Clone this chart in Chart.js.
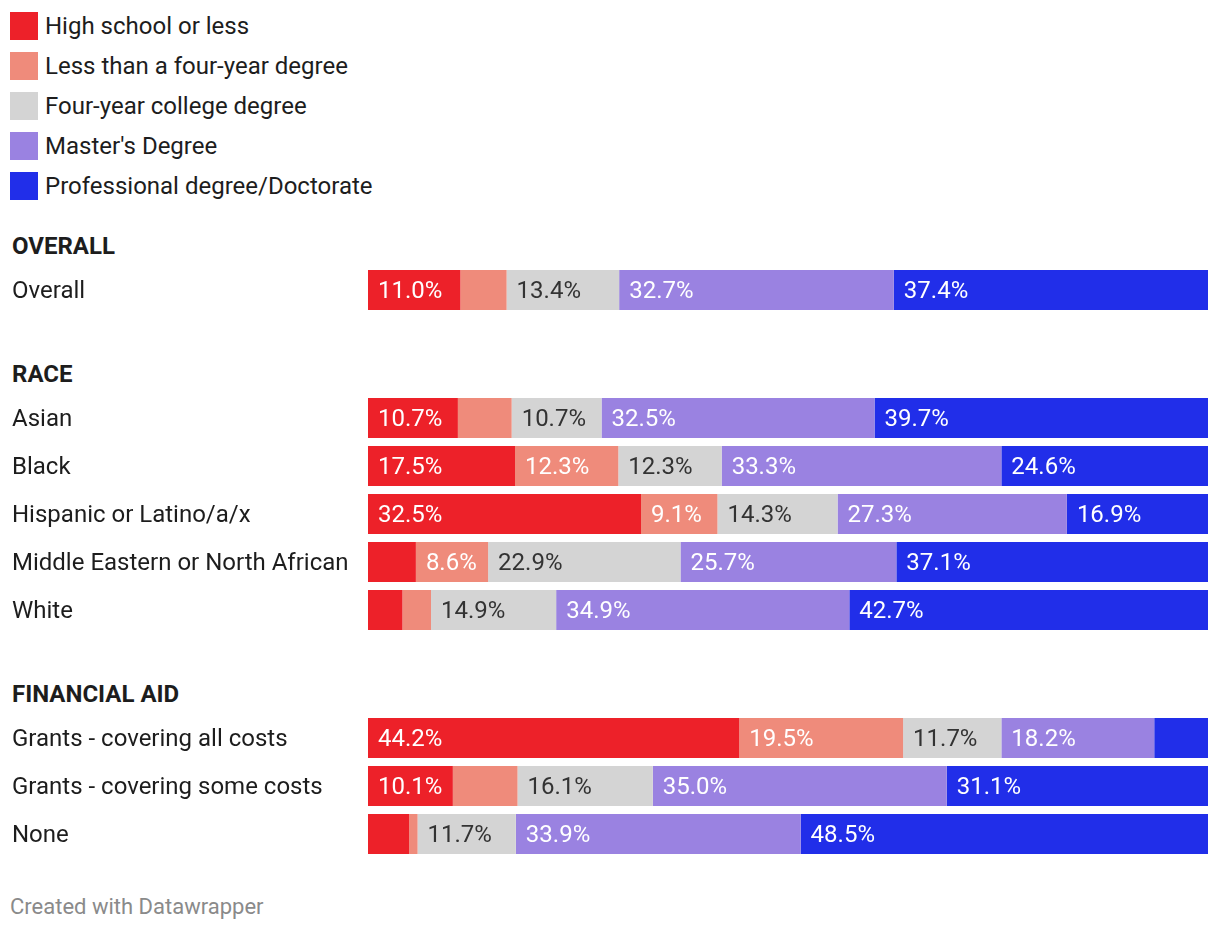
<!DOCTYPE html>
<html>
<head>
<meta charset="utf-8">
<script src="https://cdn.jsdelivr.net/npm/chart.js@4/dist/chart.umd.min.js"></script>
<style>
  html, body { margin: 0; padding: 0; background: #fff; }
  body { width: 1220px; height: 930px; position: relative; overflow: hidden;
         font-family: Roboto, "Noto Sans", sans-serif; color: #1d1d1d; }
  #legend { position: absolute; left: 10px; top: 12px; }
  .li { display: flex; align-items: center; height: 28px; margin-bottom: 12px; font-size: 24px; white-space: nowrap; }
  .sw { width: 28px; height: 28px; margin-right: 7px; flex: none; }
  .hdr { position: absolute; left: 12px; font-weight: 700; font-size: 24px; line-height: 28px; }
  .box { position: absolute; left: 0; width: 1220px; }
  .box canvas { display: block; }
  #foot { position: absolute; left: 10px; top: 895px; font-size: 22px; line-height: 24px; color: #8a8a8a; }
</style>
</head>
<body>
<div id="legend"></div>
<div class="hdr" id="h0" style="top:232px"></div>
<div class="box" style="top:266px"><canvas id="c0"></canvas></div>
<div class="hdr" id="h1" style="top:360px"></div>
<div class="box" style="top:394px"><canvas id="c1"></canvas></div>
<div class="hdr" id="h2" style="top:680px"></div>
<div class="box" style="top:714px"><canvas id="c2"></canvas></div>
<div id="foot">Created with Datawrapper</div>

<script>
// ---- data ----
const SERIES = ["High school or less", "Less than a four-year degree", "Four-year college degree", "Master's Degree", "Professional degree/Doctorate"];
const GROUP_NAMES = ["OVERALL", "RACE", "FINANCIAL AID"];
const CATEGORIES = ["Overall", "Asian", "Black", "Hispanic or Latino/a/x", "Middle Eastern or North African", "White", "Grants - covering all costs", "Grants - covering some costs", "None"];
const GROUP_OF = [0, 1, 1, 1, 1, 1, 2, 2, 2];
const HIGH_SCHOOL   = [11.0, 10.7, 17.5, 32.5, 5.7, 4.1, 44.2, 10.1, 4.9];
const LESS_THAN_4YR = [5.5, 6.4, 12.3, 9.1, 8.6, 3.4, 19.5, 7.7, 1.0];
const FOUR_YEAR     = [13.4, 10.7, 12.3, 14.3, 22.9, 14.9, 11.7, 16.1, 11.7];
const MASTERS       = [32.7, 32.5, 33.3, 27.3, 25.7, 34.9, 18.2, 35.0, 33.9];
const DOCTORATE     = [37.4, 39.7, 24.6, 16.9, 37.1, 42.7, 6.4, 31.1, 48.5];
const VALUES = [HIGH_SCHOOL, LESS_THAN_4YR, FOUR_YEAR, MASTERS, DOCTORATE];

// ---- styles ----
const COLORS = ["#ed2129", "#ef8b7b", "#d4d4d4", "#9a82e1", "#212ee9"];
const TEXT_COLORS = ["#ffffff", "#ffffff", "#333333", "#ffffff", "#ffffff"];
const ROW_PITCH = 48, BAR_H = 40;

// legend
const legend = document.getElementById('legend');
SERIES.forEach((s, i) => {
  const d = document.createElement('div'); d.className = 'li';
  const sw = document.createElement('span'); sw.className = 'sw'; sw.style.background = COLORS[i];
  const t = document.createElement('span'); t.textContent = s;
  d.appendChild(sw); d.appendChild(t); legend.appendChild(d);
});

const valueLabels = {
  id: 'valueLabels',
  afterDatasetsDraw(chart) {
    const ctx = chart.ctx;
    ctx.save();
    ctx.font = '400 24px Roboto';
    ctx.textBaseline = 'middle';
    ctx.textAlign = 'left';
    chart.data.datasets.forEach((ds, di) => {
      const meta = chart.getDatasetMeta(di);
      meta.data.forEach((bar, i) => {
        const v = ds.data[i];
        const w = Math.abs(bar.x - bar.base);
        if (w < 68) return;
        ctx.fillStyle = TEXT_COLORS[di];
        ctx.fillText(v.toFixed(1) + '%', Math.min(bar.x, bar.base) + 10, bar.y + 2);
      });
    });
    ctx.restore();
  }
};

GROUP_NAMES.forEach((g, gi) => {
  document.getElementById('h' + gi).textContent = g;
  const idx = CATEGORIES.map((c, i) => i).filter(i => GROUP_OF[i] === gi);
  const canvas = document.getElementById('c' + gi);
  canvas.width = 1220; canvas.height = ROW_PITCH * idx.length;
  new Chart(canvas, {
    type: 'bar',
    data: {
      labels: idx.map(i => CATEGORIES[i]),
      datasets: SERIES.map((name, s) => ({
        label: name,
        data: idx.map(i => VALUES[s][i]),
        backgroundColor: COLORS[s],
        borderWidth: 0,
        barPercentage: BAR_H / ROW_PITCH,
        categoryPercentage: 1
      }))
    },
    options: {
      indexAxis: 'y',
      responsive: false,
      animation: false,
      layout: { padding: { left: 12, right: 12, top: 0, bottom: 0 } },
      plugins: { legend: { display: false }, tooltip: { enabled: false } },
      scales: {
        x: { stacked: true, min: 0, max: 100, display: false },
        y: {
          stacked: true,
          grid: { display: false },
          border: { display: false },
          ticks: { crossAlign: 'far', color: '#1d1d1d', font: { family: 'Roboto', size: 24 }, padding: 0, labelOffset: 2 },
          afterFit(scale) { scale.width = 356; scale.paddingTop = 0; scale.paddingBottom = 0; }
        }
      }
    },
    plugins: [valueLabels]
  });
});
</script>
</body>
</html>
